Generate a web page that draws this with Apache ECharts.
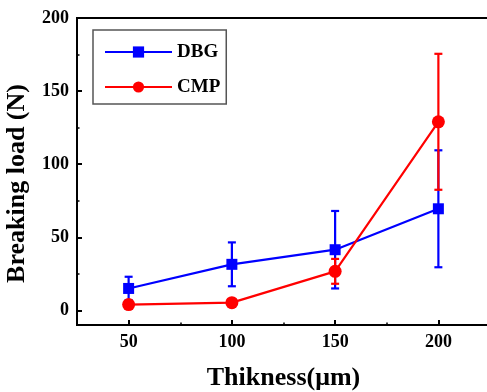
<!DOCTYPE html>
<html>
<head>
<meta charset="utf-8">
<script src="https://cdn.jsdelivr.net/npm/echarts@6/dist/echarts.min.js"></script>
<style>html,body{margin:0;padding:0;background:#fff;}#c{width:487px;height:392px;}</style>
</head>
<body>
<div id="c"></div>
<script>
var thickness = [50, 100, 150, 200];
var dbgLoad = [15, 31.5, 41.5, 69.5];
var dbgErr = [8, 15, 26.5, 40];
var cmpLoad = [4, 5.3, 26.7, 129];
var cmpErr = [1.5, 1.5, 8.5, 46.5];
var xTickLabels = ['50', '100', '150', '200'];
var yTickLabels = ['0', '50', '100', '150', '200'];

var FONT = 'Liberation Serif';
function pairs(y) { return thickness.map(function (x, i) { return [x, y[i]]; }); }
function errData(y, e) { return thickness.map(function (x, i) { return [x, y[i] - e[i], y[i] + e[i]]; }); }
function errSeries(name, color, data) {
  return {
    type: 'custom', name: name + ' err', xAxisIndex: 0, yAxisIndex: 0,
    data: data, encode: { x: 0, y: [1, 2] }, silent: true,
    renderItem: function (params, api) {
      var x = api.value(0);
      var lo = api.coord([x, api.value(1)]);
      var hi = api.coord([x, api.value(2)]);
      var h = 4;
      var st = { stroke: color, lineWidth: 2.2 };
      return { type: 'group', children: [
        { type: 'line', shape: { x1: lo[0], y1: lo[1], x2: hi[0], y2: hi[1] }, style: st },
        { type: 'line', shape: { x1: lo[0] - h, y1: lo[1], x2: lo[0] + h, y2: lo[1] }, style: st },
        { type: 'line', shape: { x1: hi[0] - h, y1: hi[1], x2: hi[0] + h, y2: hi[1] }, style: st }
      ] };
    }
  };
}
var labelStyle = { fontFamily: FONT, fontWeight: 'bold', fontSize: 18, color: '#000' };

var chart = echarts.init(document.getElementById('c'), null, { renderer: 'canvas' });
chart.setOption({
  animation: false,
  grid: { left: 77, top: 18, right: -3, bottom: 67, outerBoundsMode: 'none', containLabel: false,
    show: true, borderColor: '#000', borderWidth: 2, backgroundColor: 'transparent' },
  legend: {
    data: ['DBG', 'CMP'], orient: 'vertical', left: 93, top: 30,
    itemWidth: 67, itemHeight: 14, itemGap: 15, padding: [12, 6, 7, 11],
    borderColor: '#555', borderWidth: 1.5, backgroundColor: '#fff',
    textStyle: { fontFamily: FONT, fontWeight: 'bold', fontSize: 19, color: '#000', lineHeight: 20 }
  },
  xAxis: [{
    type: 'value', min: 25, max: 225, splitNumber: 4, position: 'bottom',
    name: 'Thikness(μm)', nameLocation: 'middle', nameGap: 40,
    nameTextStyle: { fontFamily: FONT, fontWeight: 'bold', fontSize: 26, color: '#000' },
    axisLine: { show: true, onZero: false, lineStyle: { color: '#000', width: 2 } },
    axisTick: { show: true, inside: true, length: 5, lineStyle: { color: '#000', width: 2 } },
    axisLabel: Object.assign({ margin: 8, showMinLabel: false, showMaxLabel: false,
      formatter: function (v) { var i = xTickLabels.indexOf(String(v)); return i >= 0 ? xTickLabels[i] : ''; } }, labelStyle),
    splitLine: { show: false }
  }, {
    type: 'value', min: 0, max: 200, interval: 50, position: 'bottom', offset: 0,
    axisLine: { show: false, onZero: false },
    axisTick: { show: true, inside: true, length: 2.5, lineStyle: { color: '#000', width: 1.5 } },
    axisLabel: { show: false }, splitLine: { show: false }
  }],
  yAxis: [{
    type: 'value', min: -10, max: 200, splitNumber: 4, position: 'left',
    name: 'Breaking load (N)', nameLocation: 'middle', nameGap: 47,
    nameTextStyle: { fontFamily: FONT, fontWeight: 'bold', fontSize: 26, color: '#000', padding: [0, 24, 0, 0] },
    axisLine: { show: true, onZero: false, lineStyle: { color: '#000', width: 2 } },
    axisTick: { show: true, inside: true, length: 5, lineStyle: { color: '#000', width: 2 } },
    axisLabel: Object.assign({ margin: 8, showMinLabel: false,
      formatter: function (v) { var i = yTickLabels.indexOf(String(v)); return i >= 0 ? yTickLabels[i] : ''; } }, labelStyle),
    splitLine: { show: false }
  }, {
    type: 'value', min: -35, max: 175, splitNumber: 4, position: 'left', offset: 0,
    axisLine: { show: false, onZero: false },
    axisTick: { show: true, inside: true, length: 2.5, lineStyle: { color: '#000', width: 1.5 } },
    axisLabel: { show: false }, splitLine: { show: false }
  }],
  series: [
    errSeries('DBG', '#0000ff', errData(dbgLoad, dbgErr)),
    { type: 'line', name: 'DBG', data: pairs(dbgLoad), xAxisIndex: 0, yAxisIndex: 0,
      symbol: 'rect', symbolSize: 11, itemStyle: { color: '#0000ff' },
      lineStyle: { color: '#0000ff', width: 2.2 } },
    errSeries('CMP', '#ff0000', errData(cmpLoad, cmpErr)),
    { type: 'line', name: 'CMP', data: pairs(cmpLoad), xAxisIndex: 0, yAxisIndex: 0,
      symbol: 'circle', symbolSize: 13, itemStyle: { color: '#ff0000' },
      lineStyle: { color: '#ff0000', width: 2.2 } }
  ]
});
</script>
</body>
</html>
